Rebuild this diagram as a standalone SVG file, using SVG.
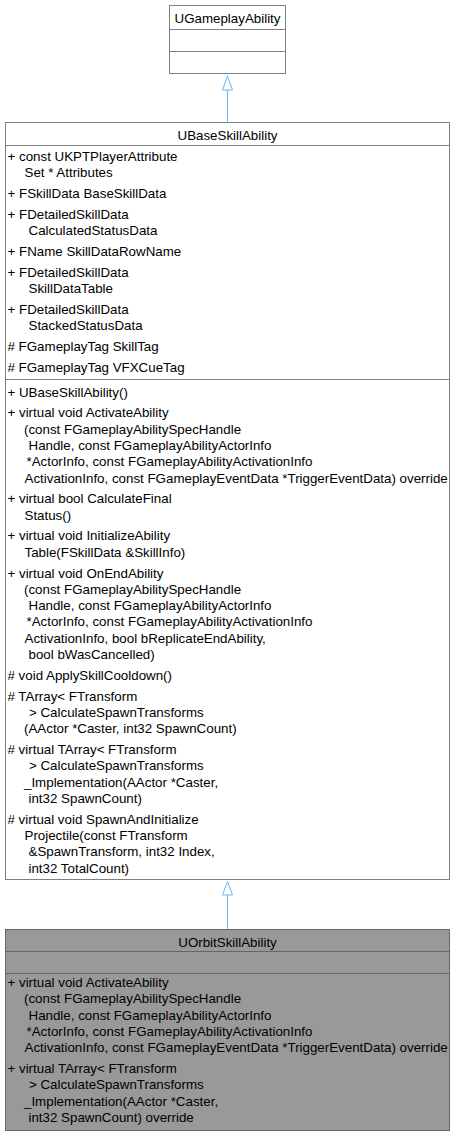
<svg xmlns="http://www.w3.org/2000/svg" width="456" height="1136" viewBox="0 0 456 1136">
<style>
.box{fill:#ffffff;stroke:#808080;stroke-width:1}
.cur{fill:#999999;stroke:#666666;stroke-width:1}
.sep{stroke:#808080;stroke-width:1}
.sepc{stroke:#666666;stroke-width:1}
text{font-family:"Liberation Sans",Arial,sans-serif;font-size:13.33px;fill:#000000}
.t{text-anchor:middle}
.edge{stroke:#63b8ff;stroke-width:1;fill:none}
.head{stroke:#63b8ff;stroke-width:1;fill:#ffffff}
</style>
<rect x="0" y="0" width="456" height="1136" fill="#ffffff"/>
<g id="connectors">
<line class="edge" x1="227.5" y1="122.5" x2="227.5" y2="90"/>
<polygon class="head" points="227.5,76 222.5,90 232.5,90"/>
<line class="edge" x1="227.5" y1="929.5" x2="227.5" y2="895"/>
<polygon class="head" points="227.5,881.5 222.5,895 232.5,895"/>
</g>
<g id="UGameplayAbility">
<rect class="box" x="169.5" y="5.5" width="116" height="68"/>
<line class="sep" x1="169.5" y1="29.5" x2="285.5" y2="29.5"/>
<line class="sep" x1="169.5" y1="51.5" x2="285.5" y2="51.5"/>
<text class="t" x="227.5" y="23">UGameplayAbility</text>
</g>
<g id="UBaseSkillAbility">
<rect class="box" x="5.5" y="122.5" width="444" height="757"/>
<line class="sep" x1="5.5" y1="145.5" x2="449.5" y2="145.5"/>
<line class="sep" x1="5.5" y1="379.5" x2="449.5" y2="379.5"/>
<text class="t" x="227.5" y="140">UBaseSkillAbility</text>
<text x="7.5" y="161">+ const UKPTPlayerAttribute</text>
<text x="24.5" y="177.3">Set * Attributes</text>
<text x="7.5" y="198.1">+ FSkillData BaseSkillData</text>
<text x="7.5" y="218.9">+ FDetailedSkillData</text>
<text x="28.5" y="235.2">CalculatedStatusData</text>
<text x="7.5" y="256">+ FName SkillDataRowName</text>
<text x="7.5" y="276.8">+ FDetailedSkillData</text>
<text x="28.5" y="293.1">SkillDataTable</text>
<text x="7.5" y="313.9">+ FDetailedSkillData</text>
<text x="28.5" y="330.2">StackedStatusData</text>
<text x="7.5" y="351"># FGameplayTag SkillTag</text>
<text x="7.5" y="371.8"># FGameplayTag VFXCueTag</text>
<text x="7.5" y="396.5">+ UBaseSkillAbility()</text>
<text x="7.5" y="417.3">+ virtual void ActivateAbility</text>
<text x="24" y="433.6">(const FGameplayAbilitySpecHandle</text>
<text x="28.5" y="449.9">Handle, const FGameplayAbilityActorInfo</text>
<text x="26.5" y="466.2">*ActorInfo, const FGameplayAbilityActivationInfo</text>
<text x="24.5" y="482.5">ActivationInfo, const FGameplayEventData *TriggerEventData) override</text>
<text x="7.5" y="503.3">+ virtual bool CalculateFinal</text>
<text x="24.5" y="519.6">Status()</text>
<text x="7.5" y="540.4">+ virtual void InitializeAbility</text>
<text x="24.5" y="556.7">Table(FSkillData &amp;SkillInfo)</text>
<text x="7.5" y="577.5">+ virtual void OnEndAbility</text>
<text x="24" y="593.8">(const FGameplayAbilitySpecHandle</text>
<text x="28.5" y="610.1">Handle, const FGameplayAbilityActorInfo</text>
<text x="26.5" y="626.4">*ActorInfo, const FGameplayAbilityActivationInfo</text>
<text x="24.5" y="642.7">ActivationInfo, bool bReplicateEndAbility,</text>
<text x="28.5" y="659">bool bWasCancelled)</text>
<text x="7.5" y="679.8"># void ApplySkillCooldown()</text>
<text x="7.5" y="700.6"># TArray&lt; FTransform</text>
<text x="29" y="716.9">&gt; CalculateSpawnTransforms</text>
<text x="24" y="733.2">(AActor *Caster, int32 SpawnCount)</text>
<text x="7.5" y="754"># virtual TArray&lt; FTransform</text>
<text x="29" y="770.3">&gt; CalculateSpawnTransforms</text>
<text x="24" y="786.6">_Implementation(AActor *Caster,</text>
<text x="28.5" y="802.9">int32 SpawnCount)</text>
<text x="7.5" y="823.7"># virtual void SpawnAndInitialize</text>
<text x="24.5" y="840">Projectile(const FTransform</text>
<text x="28.5" y="856.3">&amp;SpawnTransform, int32 Index,</text>
<text x="28.5" y="872.6">int32 TotalCount)</text>
</g>
<g id="UOrbitSkillAbility">
<rect class="cur" x="5.5" y="929.5" width="444" height="201"/>
<line class="sepc" x1="5.5" y1="951.5" x2="449.5" y2="951.5"/>
<line class="sepc" x1="5.5" y1="973.5" x2="449.5" y2="973.5"/>
<text class="t" x="227.5" y="947">UOrbitSkillAbility</text>
<text x="7.5" y="987">+ virtual void ActivateAbility</text>
<text x="24" y="1003.3">(const FGameplayAbilitySpecHandle</text>
<text x="28.5" y="1019.6">Handle, const FGameplayAbilityActorInfo</text>
<text x="26.5" y="1035.9">*ActorInfo, const FGameplayAbilityActivationInfo</text>
<text x="24.5" y="1052.2">ActivationInfo, const FGameplayEventData *TriggerEventData) override</text>
<text x="7.5" y="1073">+ virtual TArray&lt; FTransform</text>
<text x="29" y="1089.3">&gt; CalculateSpawnTransforms</text>
<text x="24" y="1105.6">_Implementation(AActor *Caster,</text>
<text x="28.5" y="1121.9">int32 SpawnCount) override</text>
</g>
</svg>
